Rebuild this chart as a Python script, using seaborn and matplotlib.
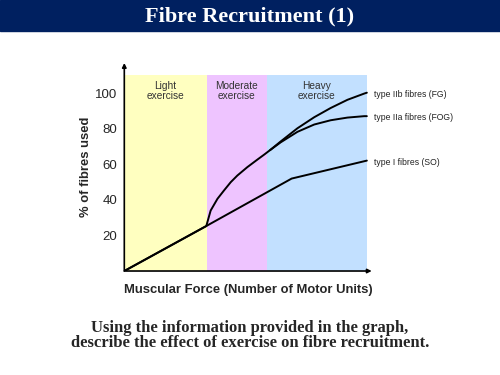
import matplotlib
matplotlib.use("Agg")
import matplotlib.pyplot as plt
import seaborn as sns
from matplotlib.patches import Rectangle

# data (x: force scale 0-100, y: % of fibres used)
type_i_force = [0, 33.8, 69, 100]
type_i_pct = [0, 25.3, 52, 62.1]

type_iia_force = [0, 33.8, 35.6, 38.4, 41.1, 43.9, 46.6, 50.7, 54.9, 57.6,
                  60.1, 64.5, 71.4, 78.3, 85.1, 92, 98.9, 100]
type_iia_pct = [0, 25.3, 34.0, 40.6, 45.3, 50.0, 53.7, 58.4, 62.7, 65.4,
                68.0, 72.4, 78.3, 82.4, 84.8, 86.3, 87.1, 87.1]

type_iib_force = [60.1, 64.5, 71.4, 78.3, 85.1, 92, 98.9, 100]
type_iib_pct = [68.0, 72.9, 80.3, 86.5, 91.7, 96.3, 99.8, 100.3]

zone_edges = [0, 34, 58.7, 100]
zone_names = ["Light\nexercise", "Moderate\nexercise", "Heavy\nexercise"]
zone_colors = ["#FFFFC0", "#EEC4FF", "#C2E0FF"]

fibre_labels = ["type IIb fibres (FG)", "type IIa fibres (FOG)", "type I fibres (SO)"]
y_ticks = [20, 40, 60, 80, 100]

sns.set_style("white")
fig = plt.figure(figsize=(5, 3.75), dpi=100)

# title bar
fig.patches.append(Rectangle((0, 0.917), 1, 0.083, transform=fig.transFigure,
                             color="#002060", zorder=0))
fig.text(0.5, 0.957, "Fibre Recruitment (1)", ha="center", va="center",
         color="white", fontsize=16, fontweight="bold", family="Liberation Serif")

ax = fig.add_axes([0.2486, 0.2773, 0.4948, 0.5547])
ax.set_xlim(0, 102)
ax.set_ylim(0, 117)

# exercise zones
for i in range(3):
    ax.axvspan(zone_edges[i], zone_edges[i + 1], ymax=110.5 / 117,
               color=zone_colors[i], lw=0, zorder=0)
    ax.text((zone_edges[i] + zone_edges[i + 1]) / 2, 107, zone_names[i],
            ha="center", va="top", fontsize=7.3, color="#333333",
            family="Liberation Sans", linespacing=1.0)

for fx, fy in [(type_i_force, type_i_pct), (type_iia_force, type_iia_pct),
               (type_iib_force, type_iib_pct)]:
    sns.lineplot(x=fx, y=fy, ax=ax, color="black", lw=1.4, sort=False,
                 estimator=None)

# labels at the end of each curve
ends = [type_iib_pct[-1], type_iia_pct[-1], type_i_pct[-1]]
for lab, yv in zip(fibre_labels, ends):
    ax.annotate(lab, xy=(100, yv), xytext=(103, yv - 0.8), fontsize=6.2,
                family="Liberation Sans", color="#222222", va="center",
                annotation_clip=False)

# axes with arrows
for s in ["top", "right", "left", "bottom"]:
    ax.spines[s].set_visible(False)
ax.annotate("", xy=(0, 117), xytext=(0, 0),
            arrowprops=dict(arrowstyle="-|>", color="black", lw=1.2,
                            mutation_scale=6, shrinkA=0, shrinkB=0))
ax.annotate("", xy=(102, 0), xytext=(0, 0),
            arrowprops=dict(arrowstyle="-|>", color="black", lw=1.2,
                            mutation_scale=6, shrinkA=0, shrinkB=0))

ax.set_xticks([])
ax.set_yticks(y_ticks)
ax.tick_params(axis="y", length=0, pad=5)
for t in ax.get_yticklabels():
    t.set_fontsize(9.5)
    t.set_family("Liberation Sans")

ax.set_ylabel("% of fibres used", fontsize=9.4, fontweight="bold",
              family="Liberation Sans", labelpad=2)
ax.set_xlabel("Muscular Force (Number of Motor Units)", fontsize=9.4,
              fontweight="bold", family="Liberation Sans", labelpad=9)

fig.text(0.5, 0.106, "Using the information provided in the graph,\n"
         "describe the effect of exercise on fibre recruitment.",
         ha="center", va="center", fontsize=12, fontweight="bold",
         family="Liberation Serif", linespacing=0.88)

fig.savefig("out.png", dpi=100)
